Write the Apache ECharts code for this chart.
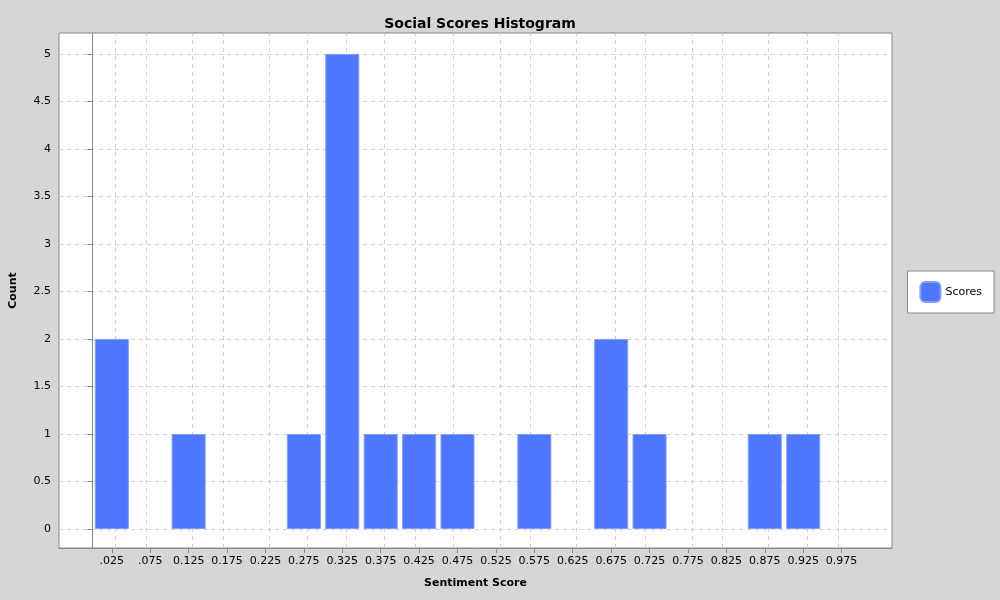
<!DOCTYPE html>
<html>
<head>
<meta charset="utf-8">
<script src="https://cdn.jsdelivr.net/npm/echarts@6/dist/echarts.min.js"></script>
<style>html,body{margin:0;padding:0;background:#d6d6d6;}</style>
</head>
<body>
<div id="main" style="width:1000px;height:600px;"></div>
<script>
// bin centres and counts
var binCenters = [0.025, 0.125, 0.275, 0.325, 0.375, 0.425, 0.475, 0.575, 0.675, 0.725, 0.875, 0.925];
var binCounts  = [2, 1, 1, 5, 1, 1, 1, 1, 2, 1, 1, 1];
var xTicks = [0.025,0.075,0.125,0.175,0.225,0.275,0.325,0.375,0.425,0.475,0.525,0.575,0.625,0.675,0.725,0.775,0.825,0.875,0.925,0.975];
var xTickLabels = ['.025','.075','0.125','0.175','0.225','0.275','0.325','0.375','0.425','0.475','0.525','0.575','0.625','0.675','0.725','0.775','0.825','0.875','0.925','0.975'];
var yTicks = [0,0.5,1,1.5,2,2.5,3,3.5,4,4.5,5];

var myChart = echarts.init(document.getElementById('main'));
var gridLines = [];
xTicks.forEach(function (v) { gridLines.push({xAxis: v}); });
yTicks.forEach(function (v) { gridLines.push({yAxis: v}); });

var option = {
    backgroundColor: '#d6d6d6',
    animation: false,
    title: {
        text: 'Social Scores Histogram', left: 475, top: 12, textAlign: 'center',
        textStyle: {fontFamily: 'DejaVu Sans', fontSize: 14, fontWeight: 'bold', color: '#000'}
    },
    legend: {
        data: ['Scores'], right: 6, top: 271, orient: 'vertical',
        backgroundColor: '#fff', borderColor: '#888', borderWidth: 1, padding: [10, 12],
        itemWidth: 20, itemHeight: 20, itemGap: 0,
        textStyle: {fontFamily: 'DejaVu Sans', fontSize: 11, color: '#000'}
    },
    grid: {left: 57, right: 108, top: 33, bottom: 52, show: true, backgroundColor: '#fff', borderColor: '#888', borderWidth: 1},
    xAxis: {
        type: 'value', min: -0.04375, max: 1.0406,
        name: 'Sentiment Score', nameLocation: 'middle', nameGap: 30,
        nameTextStyle: {fontFamily: 'DejaVu Sans', fontSize: 11, fontWeight: 'bold', color: '#000'},
        axisLine: {show: true, onZero: false, lineStyle: {color: '#888'}},
        axisTick: {show: true, customValues: xTicks, lineStyle: {color: '#888'}},
        axisLabel: {
            customValues: xTicks, color: '#000', fontFamily: 'DejaVu Sans', fontSize: 11,
            formatter: function (v) { return xTickLabels[xTicks.indexOf(Math.round(v * 1000) / 1000)] || ''; }
        },
        splitLine: {show: false}
    },
    yAxis: {
        type: 'value', min: -0.2, max: 5.22,
        name: 'Count', nameLocation: 'middle', nameGap: 40, nameRotate: 90,
        nameTextStyle: {fontFamily: 'DejaVu Sans', fontSize: 11, fontWeight: 'bold', color: '#000'},
        axisLine: {show: true, lineStyle: {color: '#888'}},
        axisTick: {show: true, customValues: yTicks, lineStyle: {color: '#888'}},
        axisLabel: {customValues: yTicks, color: '#000', fontFamily: 'DejaVu Sans', fontSize: 11},
        splitLine: {show: false}
    },
    series: [{
        name: 'Scores',
        type: 'bar',
        barWidth: 34,
        itemStyle: {color: '#4f76ff', borderColor: '#7f9cff', borderWidth: 1},
        data: binCenters.map(function (c, i) { return [c, binCounts[i]]; }),
        markLine: {
            silent: true, symbol: 'none', label: {show: false}, z: 0,
            lineStyle: {color: '#d0d0d0', type: [4, 4], width: 1},
            data: gridLines
        }
    }]
};
myChart.setOption(option, true);
</script>
</body>
</html>
